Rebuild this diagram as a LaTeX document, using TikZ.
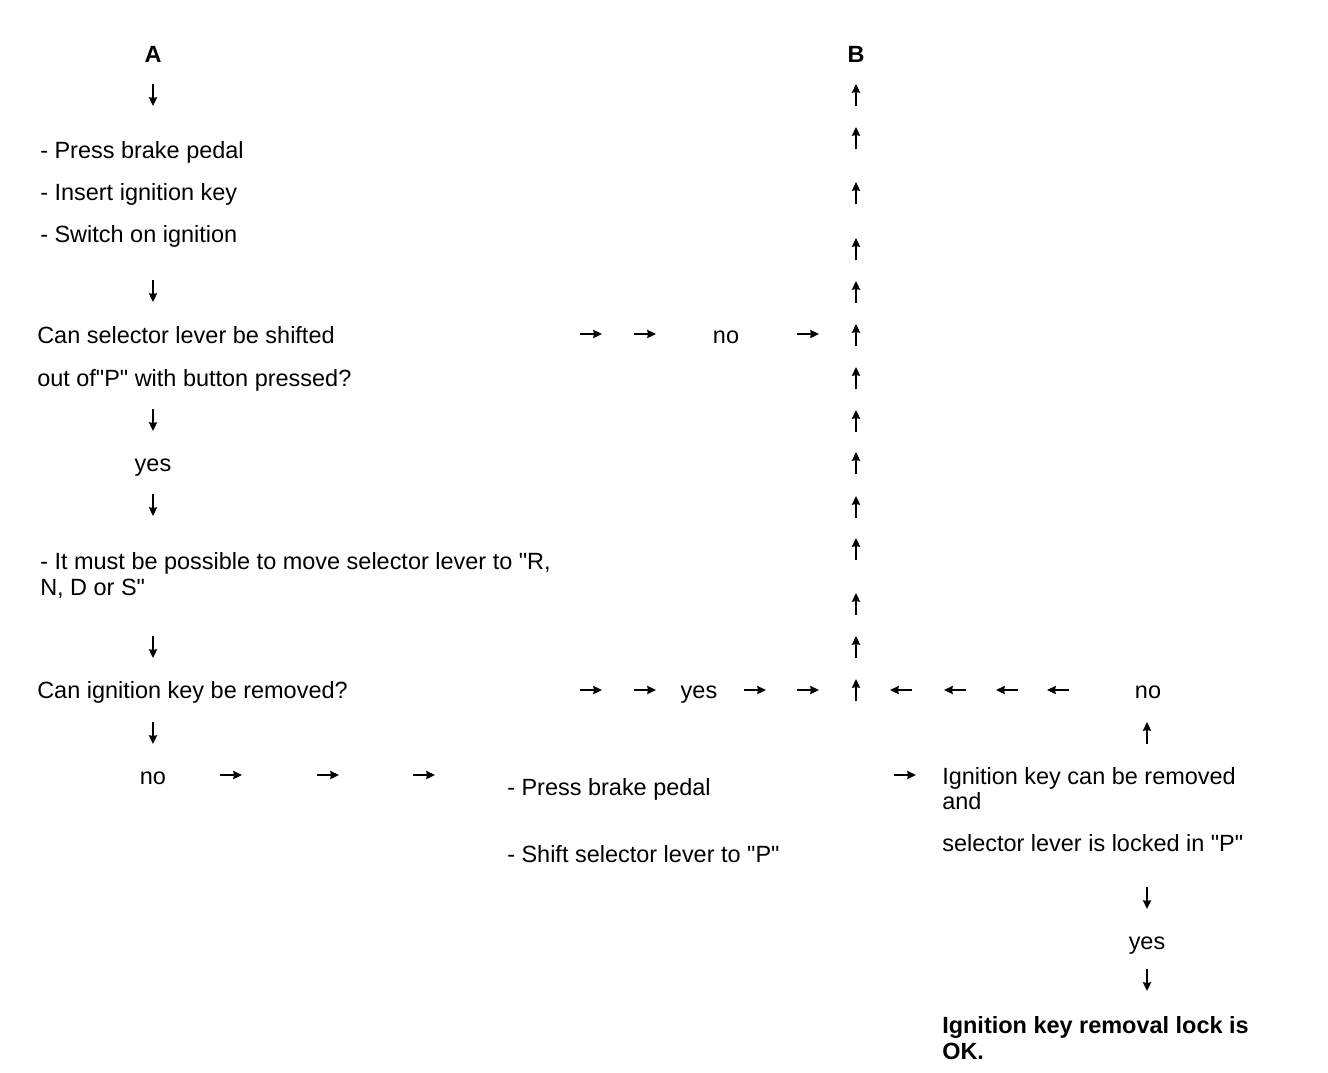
\documentclass[tikz,border=0pt]{standalone}
\usepackage{fontspec}
\setmainfont{Liberation Sans}
\usetikzlibrary{arrows.meta}
\begin{document}
\begin{tikzpicture}[x=0.75pt,y=-0.75pt,
  txt/.style={anchor=base west,inner sep=0pt,font=\fontsize{17.6}{20}\selectfont},
  ctxt/.style={anchor=base,inner sep=0pt,font=\fontsize{17.6}{20}\selectfont},
  btxt/.style={anchor=base west,inner sep=0pt,font=\fontsize{17.6}{20}\selectfont\bfseries},
  glyph/.style={line width=1.7pt,-{Stealth[length=6.5pt,width=6pt,inset=0.5pt]}}]
\useasboundingbox (0,0) rectangle (1328,1072);
\newcommand{\darr}[2]{\draw[glyph] (#1,#2-11) -- (#1,#2+11);}
\newcommand{\uarr}[2]{\draw[glyph] (#1,#2+11) -- (#1,#2-11);}
\newcommand{\rarr}[2]{\draw[glyph] (#1-11,#2) -- (#1+11,#2);}
\newcommand{\larr}[2]{\draw[glyph] (#1+11,#2) -- (#1-11,#2);}
\newcommand{\q}{\textquotedbl}
% left column
\node[ctxt,font=\fontsize{17.6}{20}\selectfont\bfseries] (A) at (153,62) {A};
\darr{153}{95}
\node[txt] (s1) at (40,158) {- Press brake pedal};
\node[txt] (s2) at (40,200) {- Insert ignition key};
\node[txt] (s3) at (40,242) {- Switch on ignition};
\darr{153}{291}
\node[txt] (q1a) at (37,343) {Can selector lever be shifted};
\node[txt] (q1b) at (37,386) {out of\q P\q{} with button pressed?};
\darr{153}{420}
\node[ctxt] (y1) at (153,471) {yes};
\darr{153}{505}
\node[txt] (m1) at (40,569) {- It must be possible to move selector lever to \q R,};
\node[txt] (m2) at (40,595) {N, D or S\q};
\darr{153}{647}
\node[txt] (q2) at (37,698) {Can ignition key be removed?};
\darr{153}{733}
\node[ctxt] (n2) at (153,784) {no};
\rarr{231}{775}\rarr{328}{775}\rarr{424}{775}
\node[txt] (p1) at (507,795) {- Press brake pedal};
\node[txt] (p2) at (507,862) {- Shift selector lever to \q P\q};
\rarr{905}{775}
\node[txt] (r1) at (942,784) {Ignition key can be removed};
\node[txt] (r2) at (942,809) {and};
\node[txt] (r3) at (942,851) {selector lever is locked in \q P\q};
\darr{1147}{898}
\node[ctxt] (y3) at (1147,949) {yes};
\darr{1147}{980}
\node[btxt] (ok1) at (942,1033) {Ignition key removal lock is};
\node[btxt] (ok2) at (942,1059) {OK.};
% row "no" at 335
\rarr{591}{334}\rarr{645}{334}
\node[ctxt] (n1) at (726,343) {no};
\rarr{808}{334}
% row at 690
\rarr{591}{690}\rarr{645}{690}
\node[ctxt] (y2) at (699,698) {yes};
\rarr{755}{690}\rarr{808}{690}
\larr{901}{690}\larr{955}{690}\larr{1007}{690}\larr{1058}{690}
\node[ctxt] (n3) at (1148,698) {no};
\uarr{1147}{733}
% B column
\node[ctxt,font=\fontsize{17.6}{20}\selectfont\bfseries] (B) at (856,62) {B};
\foreach \yy in {95,138,193,249,292,335,378,421,463,507,549,604,647,690}{\uarr{856}{\yy}}
\end{tikzpicture}
\end{document}
